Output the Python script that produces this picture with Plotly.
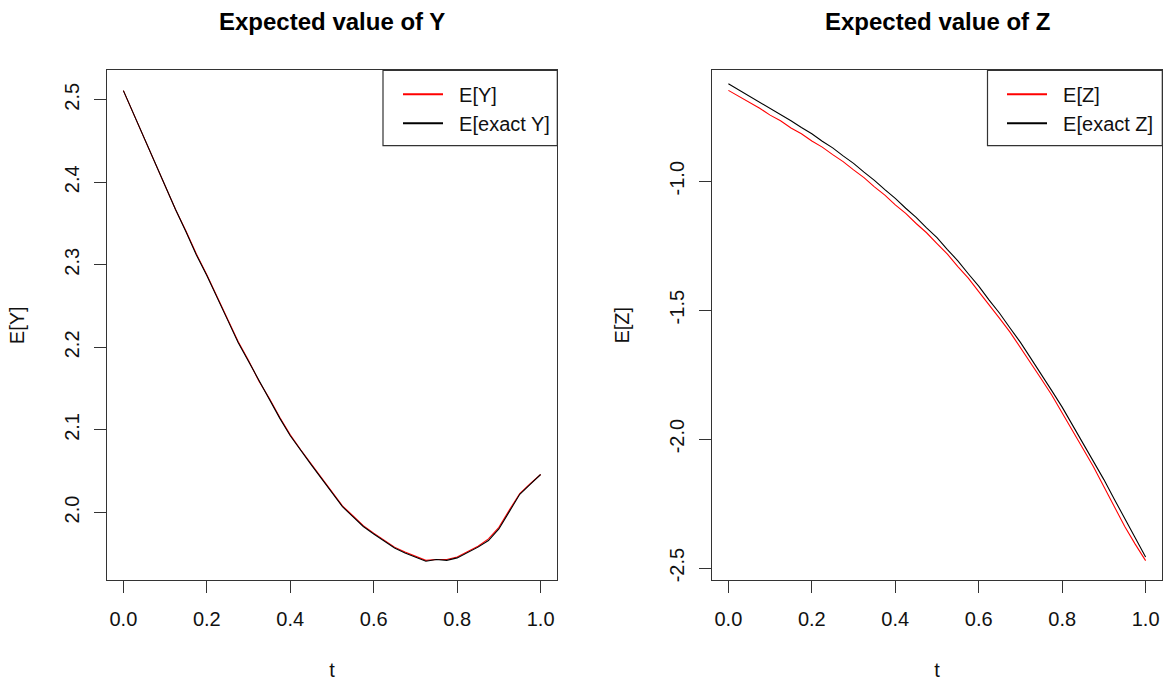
import plotly.graph_objects as go

# ---------------- data ----------------
t = [0.000, 0.025, 0.050, 0.075, 0.100, 0.125, 0.150, 0.175, 0.200, 0.225,
     0.250, 0.275, 0.300, 0.325, 0.350, 0.375, 0.400, 0.425, 0.450, 0.475,
     0.500, 0.525, 0.550, 0.575, 0.600, 0.625, 0.650, 0.675, 0.700, 0.725,
     0.750, 0.775, 0.800, 0.825, 0.850, 0.875, 0.900, 0.925, 0.950, 0.975,
     1.000]

ey_exact = [2.511, 2.482, 2.455, 2.425, 2.395, 2.367, 2.340, 2.312, 2.287, 2.259,
            2.233, 2.206, 2.183, 2.159, 2.137, 2.114, 2.093, 2.075, 2.058, 2.041,
            2.024, 2.007, 1.995, 1.983, 1.974, 1.965, 1.957, 1.951, 1.946, 1.941,
            1.943, 1.942, 1.945, 1.951, 1.958, 1.966, 1.980, 2.001, 2.022, 2.034,
            2.046]

ey_est = [2.511, 2.482, 2.455, 2.426, 2.396, 2.367, 2.341, 2.313, 2.288, 2.260,
          2.234, 2.207, 2.184, 2.159, 2.138, 2.115, 2.094, 2.076, 2.059, 2.042,
          2.025, 2.008, 1.996, 1.984, 1.975, 1.966, 1.958, 1.952, 1.947, 1.942,
          1.943, 1.943, 1.946, 1.952, 1.959, 1.968, 1.982, 2.003, 2.023, 2.035,
          2.046]

ez_exact = [-0.622, -0.646, -0.667, -0.693, -0.716, -0.742, -0.766, -0.792, -0.816, -0.845,
            -0.871, -0.902, -0.931, -0.965, -0.997, -1.033, -1.067, -1.105, -1.140, -1.181,
            -1.219, -1.265, -1.309, -1.359, -1.407, -1.461, -1.512, -1.569, -1.625, -1.687,
            -1.747, -1.812, -1.876, -1.946, -2.014, -2.087, -2.157, -2.233, -2.307, -2.385,
            -2.457]

ez_est = [-0.648, -0.671, -0.695, -0.717, -0.744, -0.766, -0.794, -0.816, -0.844, -0.868,
          -0.897, -0.924, -0.956, -0.986, -1.022, -1.054, -1.092, -1.125, -1.164, -1.200,
          -1.242, -1.283, -1.331, -1.376, -1.428, -1.478, -1.532, -1.585, -1.645, -1.703,
          -1.767, -1.829, -1.897, -1.964, -2.037, -2.107, -2.183, -2.259, -2.339, -2.407,
          -2.471]

x_tickvals = [0.0, 0.2, 0.4, 0.6, 0.8, 1.0]
x_ticktext = ["0.0", "0.2", "0.4", "0.6", "0.8", "1.0"]
y_tickvals = [2.0, 2.1, 2.2, 2.3, 2.4, 2.5]
y_ticktext = ["2.0", "2.1", "2.2", "2.3", "2.4", "2.5"]
z_tickvals = [-2.5, -2.0, -1.5, -1.0]
z_ticktext = ["-2.5", "-2.0", "-1.5", "-1.0"]

# ---------------- layout geometry ----------------
W, H = 1167, 684
FONT = "Liberation Sans, Arial, sans-serif"
AX = "#333333"
NB = "\u00a0\u00a0"


def px_x(p):
    return p / W


def px_y(p):
    return 1 - p / H


box_top, box_bot = 70.7, 581.7
left_box = (106.7, 557.3)
right_box = (711.7, 1162.3)

fig = go.Figure()

# left panel
fig.add_trace(go.Scatter(x=t, y=ey_est, mode="lines", line=dict(color="#ff0000", width=1.1),
                         showlegend=False, xaxis="x", yaxis="y"))
fig.add_trace(go.Scatter(x=t, y=ey_exact, mode="lines", line=dict(color="#000000", width=1.1),
                         showlegend=False, xaxis="x", yaxis="y"))
# right panel
fig.add_trace(go.Scatter(x=t, y=ez_est, mode="lines", line=dict(color="#ff0000", width=1.1),
                         showlegend=False, xaxis="x2", yaxis="y2"))
fig.add_trace(go.Scatter(x=t, y=ez_exact, mode="lines", line=dict(color="#000000", width=1.1),
                         showlegend=False, xaxis="x2", yaxis="y2"))

# legend entries
fig.add_trace(go.Scatter(x=[None], y=[None], mode="lines", name=NB + "E[Y]",
                         line=dict(color="#ff0000", width=2), legend="legend",
                         xaxis="x", yaxis="y"))
fig.add_trace(go.Scatter(x=[None], y=[None], mode="lines", name=NB + "E[exact Y]",
                         line=dict(color="#000000", width=2), legend="legend",
                         xaxis="x", yaxis="y"))
fig.add_trace(go.Scatter(x=[None], y=[None], mode="lines", name=NB + "E[Z]",
                         line=dict(color="#ff0000", width=2), legend="legend2",
                         xaxis="x2", yaxis="y2"))
fig.add_trace(go.Scatter(x=[None], y=[None], mode="lines", name=NB + "E[exact Z]",
                         line=dict(color="#000000", width=2), legend="legend2",
                         xaxis="x2", yaxis="y2"))

common_axis = dict(
    showgrid=False, zeroline=False, showline=True, mirror=True,
    linecolor=AX, linewidth=1.2, ticks="outside", ticklen=12, tickwidth=1.2,
    tickcolor=AX, tickfont=dict(family=FONT, size=20, color="#111111"),
    title_font=dict(family=FONT, size=20, color="#111111"),
)

fig.update_layout(
    width=W, height=H,
    margin=dict(l=0, r=0, t=0, b=0),
    paper_bgcolor="white", plot_bgcolor="white",
    font=dict(family=FONT, size=20, color="#111111"),
    xaxis=dict(domain=[px_x(left_box[0]), px_x(left_box[1])], range=[-0.04, 1.04],
               tickvals=x_tickvals, ticktext=x_ticktext, anchor="y",
               title=dict(text="t", standoff=33), ticklabelstandoff=9, **common_axis),
    yaxis=dict(domain=[px_y(box_bot), px_y(box_top)], range=[1.9182, 2.5354],
               tickvals=y_tickvals, ticktext=y_ticktext, tickangle=-90, anchor="x",
               title=dict(text="E[Y]", standoff=30), ticklabelstandoff=7, **common_axis),
    xaxis2=dict(domain=[px_x(right_box[0]), px_x(right_box[1])], range=[-0.04, 1.04],
                tickvals=x_tickvals, ticktext=x_ticktext, anchor="y2",
                title=dict(text="t", standoff=33), ticklabelstandoff=9, **common_axis),
    yaxis2=dict(domain=[px_y(box_bot), px_y(box_top)], range=[-2.5462, -0.5709],
                tickvals=z_tickvals, ticktext=z_ticktext, tickangle=-90, anchor="x2",
                title=dict(text="E[Z]", standoff=30), ticklabelstandoff=7, **common_axis),
    legend=dict(x=px_x(398), y=px_y(75), xanchor="left", yanchor="top",
                bgcolor="rgba(0,0,0,0)", borderwidth=0,
                font=dict(family=FONT, size=20, color="#111111"),
                tracegroupgap=0, itemwidth=40),
    legend2=dict(x=px_x(1002), y=px_y(75), xanchor="left", yanchor="top",
                 bgcolor="rgba(0,0,0,0)", borderwidth=0,
                 font=dict(family=FONT, size=20, color="#111111"),
                 tracegroupgap=0, itemwidth=40),
    shapes=[
        dict(type="rect", xref="paper", yref="paper",
             x0=px_x(383), x1=px_x(left_box[1]), y0=px_y(146), y1=px_y(box_top),
             line=dict(color=AX, width=1.2), fillcolor="rgba(0,0,0,0)"),
        dict(type="rect", xref="paper", yref="paper",
             x0=px_x(987.5), x1=px_x(right_box[1]), y0=px_y(146), y1=px_y(box_top),
             line=dict(color=AX, width=1.2), fillcolor="rgba(0,0,0,0)"),
    ],
    annotations=[
        dict(text="Expected value of Y", xref="paper", yref="paper",
             x=px_x((left_box[0] + left_box[1]) / 2), y=px_y(22),
             xanchor="center", yanchor="middle", showarrow=False,
             font=dict(family=FONT, size=24, color="#000000", weight="bold")),
        dict(text="Expected value of Z", xref="paper", yref="paper",
             x=px_x((right_box[0] + right_box[1]) / 2), y=px_y(22),
             xanchor="center", yanchor="middle", showarrow=False,
             font=dict(family=FONT, size=24, color="#000000", weight="bold")),
    ],
)

fig.write_html("out.html", config={"displayModeBar": False},
               post_script="document.body.style.margin='0';")
